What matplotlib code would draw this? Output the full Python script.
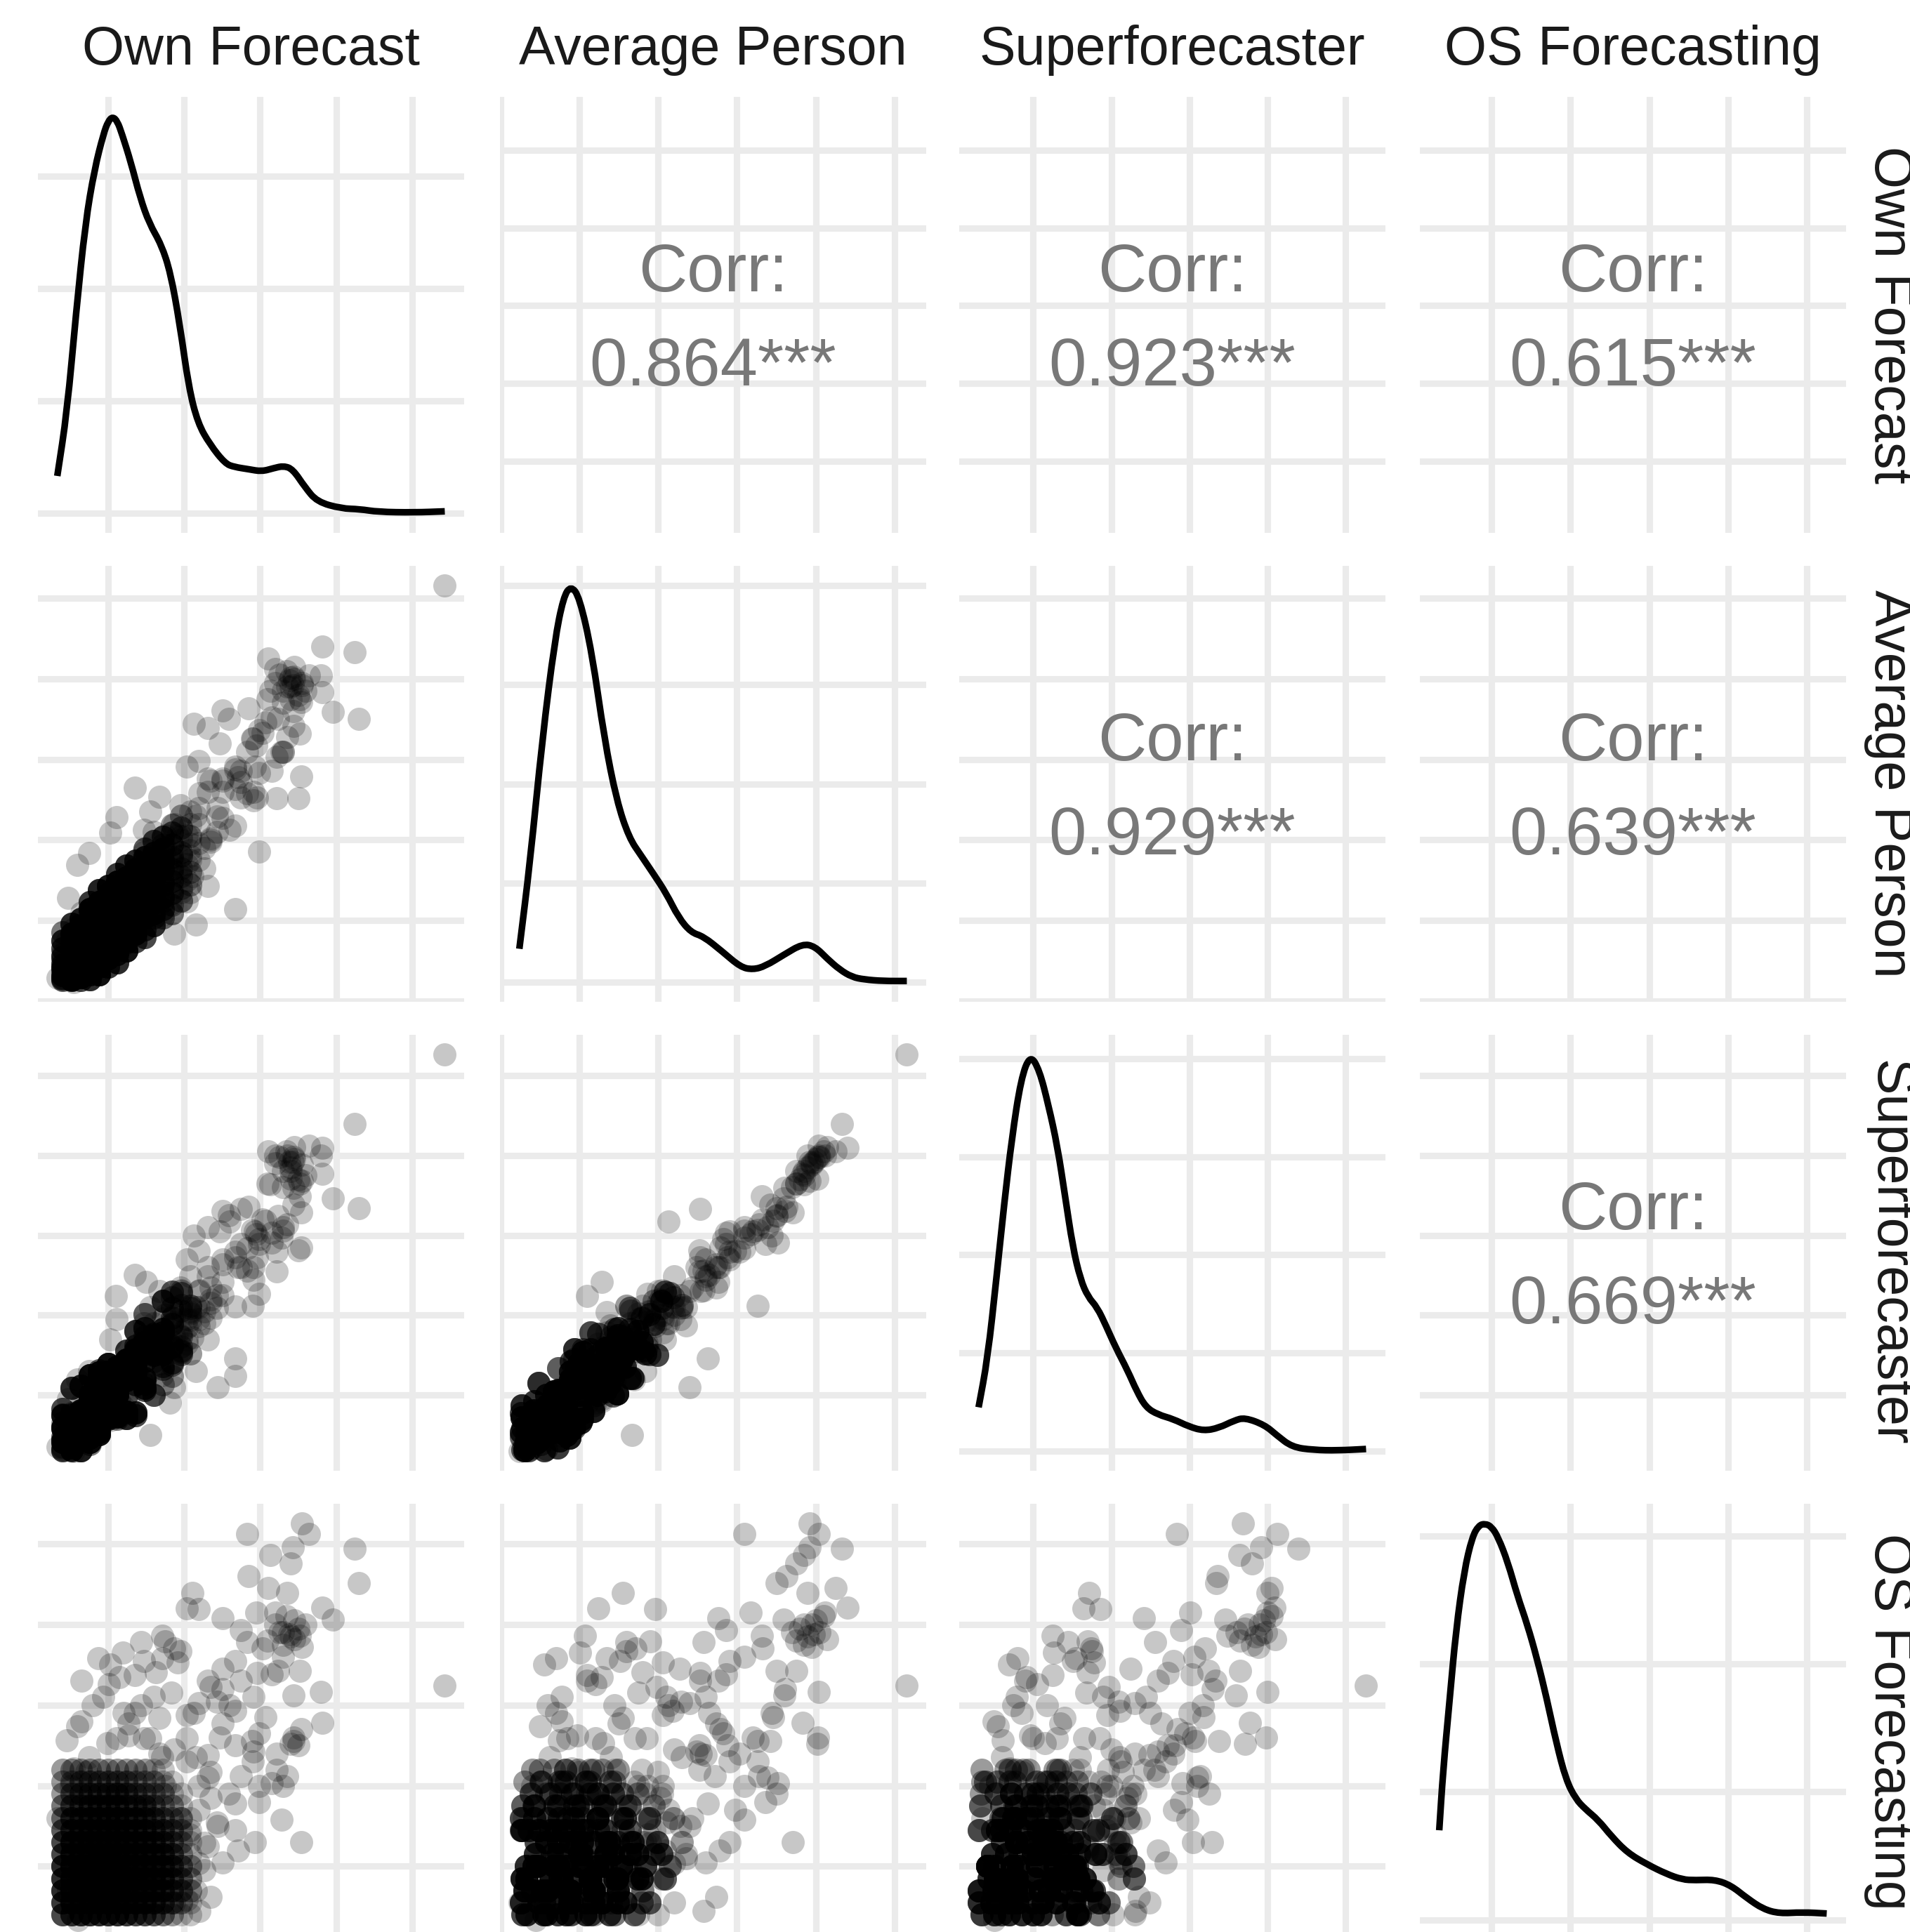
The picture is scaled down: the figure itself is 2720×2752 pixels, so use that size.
import numpy as np
import matplotlib
matplotlib.use("Agg")
import matplotlib.pyplot as plt
from matplotlib.path import Path
from matplotlib.patches import PathPatch

plt.rcParams['font.family'] = ['Liberation Sans', 'DejaVu Sans']

variables = ["Own Forecast", "Average Person", "Superforecaster", "OS Forecasting"]
corr_pairs = [(0, 1), (0, 2), (0, 3), (1, 2), (1, 3), (2, 3)]
corr_labels = ["0.864***", "0.923***", "0.615***", "0.929***", "0.639***", "0.669***"]

# ---- individual (sparse) observations ----
outer_own = [5.43, 3.55, 3.64, 2.83, 4.24, 3.43, 3.13, 3.40, 2.85, 4.30,
             3.36, 2.11, 3.82, 2.03, 2.19, 2.51, 2.95, 3.96, 2.75, 1.71,
             3.52, 2.83, 1.87, 1.19, 1.47, 1.03, 1.91, 1.15, 2.51, 2.67,
             3.24, 3.52, 2.96, 3.15, 0.93, 2.35, 3.44, 3.80, 2.91, 1.83,
             2.43, 1.43, 3.07, 3.82, 2.51, 2.67, 2.03, 1.67, 0.65, 3.44,
             3.44, 3.40, 2.89, 2.67, 3.22, 2.31, 2.91, 0.75, 0.45, 1.27,
             2.75, 3.36, 3.15, 2.99, 3.28, 3.54, 2.93, 2.71, 2.51, 2.35,
             2.20, 2.67, 2.67, 2.44, 2.35, 0.33, 1.81, 1.55, 1.35, 1.50,
             1.10, 2.60, 2.75, 2.90, 3.50, 3.54, 3.22, 2.99, 3.30, 3.03,
             1.11, 1.03, 1.47, 1.67, 1.55, 1.95, 0.59, 0.75, 0.47, 2.27,
             2.31, 2.15, 1.87, 2.07, 1.75, 3.11, 0.55, 0.60, 2.13, 2.31,
             2.51, 2.59, 2.47, 2.03, 2.19, 2.31, 3.30, 2.99,
             3.10, 3.20, 3.25, 3.30, 3.35, 3.40, 3.45, 3.50, 3.55, 3.30,
             3.20, 3.45, 3.60, 3.38,
             0.87, 1.01, 1.35, 1.43, 1.75, 1.95, 1.71, 1.27, 1.11, 0.59,
             0.55, 0.51, 0.71, 0.99, 1.87, 1.71, 1.47, 2.15, 2.35, 2.19,
             2.43, 2.27, 2.19, 2.03, 1.63, 2.19, 1.55, 2.03, 0.80, 1.20,
             0.65, 1.60]
outer_avg = [5.157, 3.92, 4.04, 3.09, 4.33, 3.92, 3.85, 3.75, 3.63, 3.50,
             3.90, 1.55, 4.40, 1.24, 1.96, 2.76, 3.17, 3.59, 2.86, 1.07,
             3.32, 2.58, 1.71, 1.01, 1.52, 0.55, 2.06, 1.28, 2.27, 2.91,
             3.50, 3.75, 2.53, 2.86, 0.78, 1.98, 3.60, 4.04, 2.60, 1.75,
             2.29, 1.44, 3.46, 3.83, 2.74, 2.18, 2.06, 1.55, 0.78, 3.42,
             4.03, 4.02, 3.26, 2.88, 3.03, 2.60, 2.49, 0.62, 0.74, 0.97,
             2.72, 3.28, 3.52, 3.36, 3.09, 3.71, 2.91, 2.78, 2.60, 2.74,
             2.58, 2.63, 1.14, 2.40, 2.02, 0.29, 1.20, 1.67, 2.65, 1.28,
             1.10, 2.13, 2.53, 3.26, 2.52, 2.79, 2.52, 1.86, 3.09, 3.33,
             2.28, 2.09, 2.13, 2.54, 2.35, 2.43, 1.69, 1.84, 1.28, 1.65,
             1.43, 0.95, 0.84, 1.87, 2.06, 4.25, 0.237, 0.45, 3.44, 3.39,
             3.61, 3.50, 3.20, 2.91, 2.98, 2.76, 3.09, 2.83,
             3.75, 3.95, 4.05, 3.85, 4.10, 3.90, 4.00, 3.80, 3.95, 3.70,
             4.12, 4.15, 3.85, 3.98,
             0.70, 1.20, 1.10, 1.60, 1.90, 1.60, 1.35, 1.50, 0.85, 0.50,
             0.90, 0.40, 1.00, 1.30, 2.20, 1.40, 1.85, 2.30, 2.00, 1.75,
             2.10, 1.90, 2.20, 1.50, 1.80, 2.40, 1.20, 1.70, 0.60, 0.70,
             1.10, 2.10]
outer_sup = [5.26, 3.68, 4.12, 2.84, 4.39, 3.92, 3.64, 3.80, 3.36, 3.34,
             4.00, 1.72, 4.09, 1.64, 1.86, 2.42, 3.01, 3.46, 2.89, 1.25,
             3.49, 2.56, 1.74, 1.27, 1.51, 0.69, 1.78, 0.92, 2.25, 2.79,
             3.24, 3.65, 2.72, 3.03, 0.79, 1.97, 3.59, 4.00, 2.44, 1.68,
             2.09, 1.18, 3.18, 3.77, 2.64, 2.11, 1.95, 1.40, 0.49, 3.38,
             3.98, 3.71, 3.07, 2.72, 2.79, 2.49, 2.60, 0.60, 0.61, 0.96,
             2.60, 3.14, 2.91, 2.89, 2.97, 3.29, 3.05, 2.60, 2.70, 2.35,
             2.31, 1.46, 1.24, 1.10, 2.20, 0.35, 0.91, 0.50, 2.50, 2.42,
             2.24, 3.17, 3.33, 2.12, 2.81, 2.85, 2.55, 2.27, 3.06, 3.20,
             1.95, 1.70, 1.90, 2.30, 2.10, 2.35, 1.20, 1.30, 0.95, 1.90,
             1.70, 1.30, 1.10, 2.05, 2.00, 4.05, 0.302, 0.50, 3.00, 3.10,
             3.30, 3.25, 3.05, 2.70, 2.80, 2.60, 3.10, 2.95,
             3.65, 3.90, 3.98, 3.80, 4.05, 3.85, 3.95, 3.70, 3.88, 3.60,
             4.00, 4.10, 3.75, 3.92,
             0.80, 1.05, 1.25, 1.45, 1.70, 1.75, 1.55, 1.35, 1.00, 0.55,
             0.70, 0.45, 0.85, 1.15, 2.00, 1.60, 1.65, 2.10, 2.15, 1.95,
             2.25, 2.05, 2.10, 1.70, 1.70, 2.30, 1.30, 1.85, 0.75, 0.85,
             0.90, 1.90]
outer_os = [3.24, 5.25, 5.12, 5.12, 4.94, 4.96, 4.86, 4.76, 4.60, 4.51,
            4.39, 4.39, 4.21, 4.20, 4.19, 4.08, 4.15, 4.06, 3.93, 3.86,
            3.86, 3.78, 3.70, 3.65, 3.55, 3.50, 3.53, 3.35, 3.45, 3.55,
            3.42, 3.42, 3.40, 3.38, 3.10, 3.22, 3.12, 3.16, 3.10, 3.15,
            3.04, 3.00, 2.85, 2.78, 2.77, 2.93, 2.88, 2.84, 2.80, 2.55,
            2.60, 2.52, 2.55, 2.50, 2.40, 2.38, 2.42, 2.35, 2.56, 2.62,
            2.12, 2.12, 2.03, 1.80, 1.58, 1.30, 1.30, 1.20, 1.05, 0.62,
            0.45, 1.78, 1.45, 1.50, 1.85, 1.60, 1.00, 0.80, 2.90, 2.20,
            1.90, 3.00, 3.30, 2.30, 2.50, 2.70, 2.20, 2.00, 3.60, 3.70,
            1.50, 1.20, 1.70, 2.40, 1.10, 1.60, 0.90, 1.30, 0.70, 0.95,
            1.25, 0.70, 0.55, 1.40, 2.00, 4.45, 0.55, 0.336, 2.90, 2.10,
            3.20, 1.90, 2.60, 2.30, 1.70, 3.30, 2.00, 2.65,
            3.80, 4.00, 3.90, 3.75, 4.10, 3.85, 4.05, 3.95, 3.72, 3.90,
            4.15, 3.82, 4.00, 3.88,
            3.58, 3.26, 3.37, 3.78, 3.79, 3.67, 3.58, 2.77, 2.59, 2.74,
            2.21, 2.00, 2.17, 2.53, 2.45, 2.35, 2.59, 2.35, 2.17, 2.00,
            1.54, 1.29, 1.04, 0.59, 3.41, 3.02, 2.59, 2.59, 3.00, 2.90,
            3.30, 3.10]

# ---- dense core, read as cells: Own Forecast level x OS level, with counts ----
core_own_levels = [0.40, 0.52, 0.64, 0.76, 0.88, 1.00, 1.12, 1.24,
                   1.36, 1.48, 1.60, 1.72, 1.84, 1.96, 2.08]
core_os_levels = [0.40, 0.55, 0.70, 0.85, 1.00, 1.15, 1.30, 1.45,
                  1.60, 1.75, 1.90, 2.05, 2.20]
core_count = [
    [5, 6, 7, 7, 7, 5, 5, 4, 3, 3, 2, 2, 2],
    [6, 7, 8, 9, 8, 7, 7, 5, 5, 4, 3, 2, 2],
    [7, 8, 9, 10, 9, 8, 7, 6, 5, 4, 4, 3, 2],
    [7, 9, 10, 11, 10, 9, 8, 7, 6, 5, 4, 3, 2],
    [7, 9, 11, 11, 11, 9, 8, 7, 6, 5, 4, 3, 2],
    [7, 9, 11, 11, 11, 9, 8, 7, 6, 5, 4, 3, 2],
    [7, 9, 10, 11, 10, 9, 8, 7, 6, 5, 4, 3, 2],
    [6, 8, 9, 10, 9, 8, 7, 6, 5, 4, 4, 3, 2],
    [5, 7, 8, 9, 8, 7, 6, 5, 5, 4, 3, 2, 2],
    [5, 6, 7, 8, 7, 6, 6, 5, 4, 4, 3, 2, 1],
    [4, 5, 6, 7, 6, 5, 5, 4, 4, 3, 2, 2, 1],
    [3, 4, 5, 6, 5, 5, 4, 4, 3, 2, 2, 1, 1],
    [2, 3, 4, 4, 4, 4, 3, 3, 2, 2, 1, 1, 0],
    [1, 2, 3, 3, 3, 2, 2, 2, 2, 1, 1, 0, 0],
    [1, 1, 2, 2, 2, 1, 1, 1, 1, 0, 0, 0, 0],
]
core_avg = [
    [0.28, 0.55, 0.40, 0.75, 0.32, 0.65, 0.45, 0.26, 0.85, 0.42, 0.58, 0.30, 0.50],
    [0.72, 0.26, 0.56, 0.27, 0.84, 0.44, 0.96, 0.36, 0.60, 0.28, 0.76, 0.52, 0.40],
    [0.54, 0.90, 0.30, 0.78, 0.42, 1.02, 0.58, 0.70, 0.26, 0.94, 0.38, 0.74, 0.82],
    [0.33, 0.87, 0.60, 1.14, 0.46, 1.00, 0.73, 0.27, 1.23, 0.69, 0.91, 0.51, 0.82],
    [1.08, 0.48, 0.88, 0.33, 1.23, 0.73, 1.38, 0.63, 0.93, 0.43, 1.13, 0.83, 0.68],
    [0.83, 1.28, 0.53, 1.13, 0.68, 1.43, 0.88, 1.03, 0.43, 1.33, 0.63, 1.08, 1.18],
    [0.58, 1.18, 0.88, 1.48, 0.73, 1.33, 1.03, 0.48, 1.58, 0.98, 1.23, 0.78, 1.13],
    [1.38, 0.78, 1.18, 0.63, 1.53, 1.03, 1.68, 0.93, 1.23, 0.73, 1.43, 1.13, 0.98],
    [1.14, 1.59, 0.84, 1.44, 0.99, 1.74, 1.19, 1.34, 0.74, 1.64, 0.94, 1.39, 1.49],
    [0.89, 1.49, 1.19, 1.79, 1.04, 1.64, 1.34, 0.79, 1.89, 1.29, 1.54, 1.09, 1.44],
    [1.69, 1.09, 1.49, 0.94, 1.84, 1.34, 1.99, 1.24, 1.54, 1.04, 1.74, 1.44, 1.29],
    [1.44, 1.89, 1.14, 1.74, 1.29, 2.04, 1.49, 1.64, 1.04, 1.94, 1.24, 1.69, 1.79],
    [1.19, 1.79, 1.49, 2.09, 1.34, 1.94, 1.64, 1.09, 2.19, 1.59, 1.84, 1.39, 1.74],
    [2.00, 1.40, 1.80, 1.25, 2.15, 1.65, 2.30, 1.55, 1.85, 1.35, 2.05, 1.75, 1.60],
    [1.75, 2.20, 1.45, 2.05, 1.60, 2.35, 1.80, 1.95, 1.35, 2.25, 1.55, 2.00, 2.10],
]
core_sup = [
    [0.59, 0.31, 0.75, 0.43, 0.41, 0.83, 0.60, 0.48, 0.58, 0.76, 0.33, 0.35, 0.65],
    [0.34, 0.54, 0.49, 0.72, 0.50, 0.48, 1.09, 0.31, 0.76, 0.32, 0.72, 0.77, 0.34],
    [0.69, 1.12, 0.31, 0.73, 0.81, 0.66, 0.79, 0.59, 0.77, 0.59, 0.52, 0.54, 0.78],
    [0.50, 0.47, 0.88, 1.25, 0.41, 1.00, 0.93, 0.87, 1.00, 0.98, 0.72, 0.39, 0.94],
    [1.10, 0.73, 0.56, 0.51, 1.28, 1.06, 1.13, 0.54, 0.61, 0.78, 1.31, 1.04, 0.70],
    [0.85, 1.29, 0.72, 1.39, 1.05, 1.22, 1.29, 0.70, 0.92, 1.05, 0.90, 1.29, 0.87],
    [1.00, 0.80, 1.20, 1.02, 0.73, 1.35, 0.78, 1.15, 1.35, 1.30, 1.06, 0.70, 1.28],
    [1.56, 0.71, 1.36, 0.79, 1.44, 1.44, 1.21, 1.24, 1.19, 1.34, 0.99, 1.19, 1.31],
    [1.57, 1.53, 0.78, 1.30, 1.40, 1.80, 1.28, 1.13, 0.75, 1.62, 1.45, 1.56, 1.35],
    [1.42, 1.84, 1.09, 1.66, 1.54, 1.21, 1.59, 1.06, 2.01, 1.19, 1.73, 1.14, 1.51],
    [1.60, 1.00, 1.75, 1.57, 1.52, 1.59, 1.50, 1.77, 1.57, 1.57, 1.55, 1.42, 1.60],
    [1.83, 1.51, 1.78, 1.58, 1.56, 2.18, 1.36, 1.83, 1.33, 2.18, 1.13, 1.71, 1.96],
    [1.24, 1.97, 1.62, 2.29, 1.41, 1.89, 2.09, 1.38, 2.22, 1.60, 1.92, 1.87, 1.57],
    [2.30, 1.73, 1.56, 1.51, 2.28, 2.06, 2.13, 1.54, 1.61, 1.78, 2.31, 2.04, 1.70],
    [2.02, 2.49, 1.52, 2.09, 2.12, 1.87, 2.12, 1.94, 2.04, 1.97, 2.04, 1.89, 2.14],
]

# ---- density curves ----
dens_own_x = [0.33, 0.458, 0.578, 0.699, 0.819, 0.939, 1.0, 1.059, 1.12, 1.18, 1.30, 1.42,
              1.54, 1.70, 1.82, 1.94, 2.06, 2.18, 2.34, 2.54, 2.66, 2.85, 3.02, 3.18,
              3.31, 3.43, 3.59, 3.75, 4.07, 4.31, 4.55, 5.03, 5.43]
dens_own_y = [0.066, 0.18, 0.358, 0.516, 0.612, 0.676, 0.698, 0.706, 0.698, 0.676, 0.624, 0.562,
              0.516, 0.478, 0.428, 0.338, 0.224, 0.16, 0.122, 0.088, 0.082, 0.078, 0.074, 0.080,
              0.084, 0.078, 0.046, 0.02, 0.008, 0.007, 0.002, 0.001, 0.003]
dens_avg_x = [0.237, 0.373, 0.529, 0.687, 0.797, 0.891, 1.0, 1.159, 1.316, 1.473, 1.63,
              1.788, 1.945, 2.102, 2.259, 2.417, 2.574, 2.81, 3.046, 3.203, 3.36, 3.596,
              3.832, 3.989, 4.146, 4.304, 4.461, 4.618, 4.854, 5.157]
dens_avg_y = [0.067, 0.242, 0.491, 0.690, 0.777, 0.800, 0.777, 0.665, 0.491, 0.366, 0.291,
              0.254, 0.217, 0.179, 0.130, 0.100, 0.092, 0.062, 0.030, 0.025, 0.032, 0.055,
              0.077, 0.072, 0.047, 0.025, 0.010, 0.005, 0.002, 0.002]
dens_sup_x = [0.302, 0.417, 0.533, 0.631, 0.728, 0.845, 0.962, 1.079, 1.196, 1.312, 1.41,
              1.507, 1.605, 1.702, 1.819, 1.936, 2.053, 2.209, 2.325, 2.442, 2.598, 2.793,
              2.988, 3.182, 3.377, 3.572, 3.708, 3.962, 4.117, 4.312, 4.585, 4.897, 5.26]
dens_sup_y = [0.089, 0.188, 0.356, 0.506, 0.638, 0.759, 0.808, 0.777, 0.705, 0.620, 0.518,
              0.416, 0.350, 0.314, 0.293, 0.254, 0.212, 0.164, 0.122, 0.089, 0.074, 0.065,
              0.050, 0.041, 0.047, 0.062, 0.068, 0.053, 0.032, 0.008, 0.002, 0.001, 0.004]
dens_os_x = [0.336, 0.385, 0.467, 0.549, 0.652, 0.754, 0.836, 0.918, 1.0, 1.082, 1.205, 1.328,
             1.451, 1.574, 1.697, 1.82, 1.943, 2.066, 2.189, 2.353, 2.517, 2.722, 2.968,
             3.214, 3.419, 3.583, 3.829, 4.034, 4.239, 4.444, 4.649, 4.936, 5.25]
dens_os_y = [0.140, 0.233, 0.343, 0.453, 0.545, 0.598, 0.616, 0.619, 0.614, 0.598, 0.559, 0.506,
             0.462, 0.409, 0.347, 0.277, 0.219, 0.189, 0.173, 0.156, 0.131, 0.105, 0.087,
             0.072, 0.063, 0.062, 0.063, 0.054, 0.034, 0.017, 0.010, 0.012, 0.010]

# ---- assemble observations ----
cnt = np.array(core_count).ravel()
cell_own = np.repeat(core_own_levels, len(core_os_levels))
cell_os = np.tile(core_os_levels, len(core_own_levels))
cell_avg = np.array(core_avg).ravel()
cell_sup = np.array(core_sup).ravel()
data = [
    np.concatenate([np.repeat(cell_own, cnt), outer_own]),
    np.concatenate([np.repeat(cell_avg, cnt), outer_avg]),
    np.concatenate([np.repeat(cell_sup, cnt), outer_sup]),
    np.concatenate([np.repeat(cell_os, cnt), outer_os]),
]
dens = [(dens_own_x, dens_own_y), (dens_avg_x, dens_avg_y),
        (dens_sup_x, dens_sup_y), (dens_os_x, dens_os_y)]

limits = []
for d in data:
    lo, hi = float(np.min(d)), float(np.max(d))
    pad = 0.05 * (hi - lo)
    limits.append((lo - pad, hi + pad))


def smooth_curve(x, y):
    verts = [(x[0], y[0]), ((x[0] + x[1]) / 2, (y[0] + y[1]) / 2)]
    codes = [Path.MOVETO, Path.LINETO]
    for k in range(1, len(x) - 1):
        verts += [(x[k], y[k]), ((x[k] + x[k + 1]) / 2, (y[k] + y[k + 1]) / 2)]
        codes += [Path.CURVE3, Path.CURVE3]
    verts.append((x[-1], y[-1]))
    codes.append(Path.LINETO)
    return Path(verts, codes)


W, H = 2720, 2752
DPI = 200
fig = plt.figure(figsize=(W / DPI, H / DPI), dpi=DPI)
fig.patch.set_facecolor('white')

col_left = [54, 712, 1366, 2022]
row_top = [138, 806, 1474, 2142]
pw, ph = 607, 621

GRID_C = '#EBEBEB'
GRID_W = 3.3
int_ticks = np.arange(-1, 8)
dens_ticks = np.arange(0, 1.01, 0.2)

for i in range(4):
    for j in range(4):
        L, T = col_left[j], row_top[i]
        ax = fig.add_axes([L / W, 1 - (T + ph) / H, pw / W, ph / H])
        ax.set_facecolor('white')
        for s in ax.spines.values():
            s.set_visible(False)
        ax.set_axisbelow(True)
        ax.set_xticks(int_ticks)
        if i == j:
            dx, dy = dens[i]
            pk = max(dy)
            ax.set_yticks(dens_ticks)
            ax.add_patch(PathPatch(smooth_curve(dx, dy), fill=False, edgecolor='black',
                                   lw=3.4, capstyle='butt', joinstyle='round', zorder=3))
            ax.set_ylim(-0.05 * pk, 1.05 * pk)
        else:
            ax.set_yticks(int_ticks)
            if i > j:
                ax.scatter(data[j], data[i], s=141, c='black', alpha=0.22,
                           linewidths=0, zorder=3)
            else:
                k = corr_pairs.index((i, j))
                ax.text(0.5, 0.554, "Corr:", transform=ax.transAxes, ha='center',
                        va='baseline', fontsize=34.5, color='#787878')
                ax.text(0.5, 0.338, corr_labels[k], transform=ax.transAxes, ha='center',
                        va='baseline', fontsize=34.5, color='#787878')
            ax.set_ylim(*limits[i])
        ax.set_xlim(*limits[j])
        ax.grid(True, color=GRID_C, linewidth=GRID_W)
        ax.tick_params(length=0, labelbottom=False, labelleft=False)

# strip labels
for j, name in enumerate(variables):
    cx = (col_left[j] + pw / 2) / W
    fig.text(cx, 1 - 92 / H, name, ha='center', va='baseline',
             fontsize=27.8, color='#1A1A1A')
for i, name in enumerate(variables):
    cy = 1 - (row_top[i] + ph / 2) / H
    fig.text(2670 / W, cy, name, ha='center', va='baseline', rotation=270,
             rotation_mode='anchor', fontsize=27.8, color='#1A1A1A')

fig.savefig('out.png', dpi=DPI, facecolor='white')
